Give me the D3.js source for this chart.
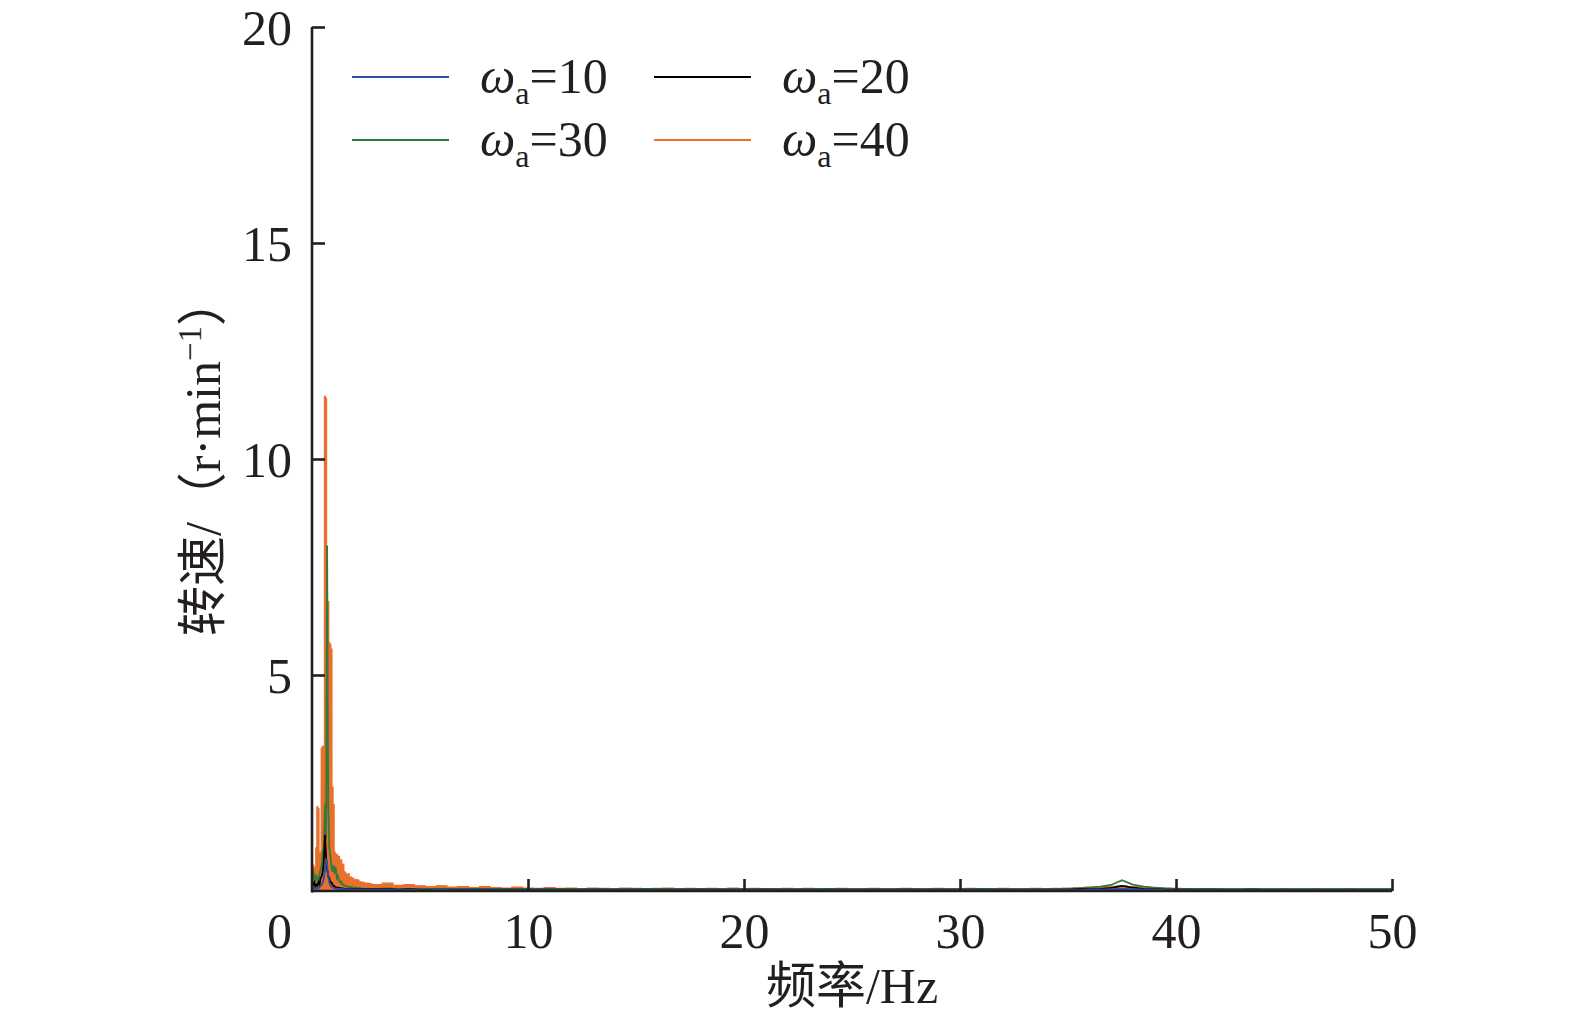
<!DOCTYPE html>
<html><head><meta charset="utf-8">
<script src="https://cdn.jsdelivr.net/npm/d3@7"></script>
<style>
html,body{margin:0;padding:0;background:#fff;}
text{font-family:"Liberation Serif","Times New Roman","Noto Sans CJK SC",serif;fill:#231f20;}
</style></head>
<body><svg id="c" width="1575" height="1025"></svg>
<script>
// ---- data ----
const seriesNames = ["10", "20", "30", "40"];
const seriesColors = ["#2f4f9f", "#000000", "#35793a", "#e8702c"];
const lowStep = 0.05;   // Hz, spectrum samples 0–2.95 Hz
const tailStart = 3.0, tailStep = 0.5; // Hz, samples 3–50 Hz
const xTicks = [0, 10, 20, 30, 40, 50];
const yTicks = [5, 10, 15, 20];

const low10 = [0.02,0.05,0.08,0.06,0.05,0.08,0.06,0.10,0.12,0.15,0.20,0.30,0.50,0.75,0.60,0.35,0.20,0.12,0.10,0.08,
  0.07,0.06,0.06,0.05,0.05,0.05,0.04,0.05,0.04,0.04,0.04,0.04,0.03,0.04,0.03,0.03,0.04,0.03,0.03,0.03,
  0.03,0.03,0.03,0.03,0.03,0.03,0.03,0.03,0.03,0.03,0.03,0.03,0.03,0.03,0.03,0.03,0.03,0.03,0.03,0.03];
const low20 = [0.05,0.15,0.20,0.10,0.15,0.10,0.20,0.15,0.30,0.35,0.45,0.70,1.30,0.80,0.50,0.35,0.30,0.20,0.20,0.15,
  0.12,0.10,0.09,0.08,0.08,0.07,0.07,0.06,0.06,0.06,0.05,0.05,0.05,0.05,0.05,0.04,0.05,0.04,0.04,0.04,
  0.04,0.04,0.04,0.04,0.04,0.04,0.04,0.04,0.04,0.04,0.04,0.04,0.04,0.04,0.04,0.04,0.04,0.04,0.04,0.04];
const low30 = [0.10,0.50,0.30,0.20,0.35,0.30,0.20,0.40,0.50,0.60,0.90,1.00,2.00,1.20,8.00,2.00,1.00,0.80,0.55,0.45,
  0.60,0.40,0.55,0.30,0.35,0.25,0.20,0.22,0.15,0.15,0.12,0.12,0.10,0.11,0.09,0.10,0.08,0.09,0.08,0.07,
  0.08,0.07,0.07,0.06,0.07,0.06,0.06,0.05,0.06,0.05,0.05,0.05,0.06,0.05,0.05,0.04,0.05,0.04,0.05,0.04];
const low40 = [0.30,0.60,0.55,0.40,1.00,1.95,1.90,0.85,0.90,3.30,3.35,3.30,11.45,11.40,6.70,6.70,5.75,5.70,5.60,2.40,
  2.00,0.90,0.75,0.85,0.70,0.80,0.55,0.72,0.50,0.62,0.45,0.42,0.38,0.36,0.40,0.30,0.32,0.28,0.30,0.26,
  0.25,0.27,0.22,0.25,0.20,0.22,0.20,0.18,0.20,0.17,0.18,0.16,0.18,0.15,0.17,0.15,0.16,0.14,0.15,0.14];

const tail10 = [0.03,0.03,0.02,0.03,0.02,0.02,0.03,0.02,0.02,0.02,
  0.02,0.02,0.02,0.02,0.02,0.02,0.02,0.02,0.02,0.02,
  0.02,0.02,0.02,0.02,0.02,0.02,0.02,0.02,0.02,0.02,
  0.02,0.02,0.02,0.02,0.02,0.02,0.02,0.02,0.02,0.02,
  0.02,0.02,0.02,0.02,0.02,0.02,0.02,0.02,0.02,0.02,
  0.02,0.02,0.02,0.02,0.02,0.02,0.02,0.02,0.02,0.02,
  0.02,0.02,0.02,0.02,0.02,0.02,0.03,0.03,0.04,0.05,
  0.04,0.03,0.03,0.02,0.02,0.02,0.02,0.02,0.02,0.02,
  0.02,0.02,0.02,0.02,0.02,0.02,0.02,0.02,0.02,0.02,
  0.02,0.02,0.02,0.02,0.02];
const tail20 = [0.04,0.04,0.03,0.04,0.03,0.03,0.03,0.03,0.03,0.03,
  0.03,0.03,0.03,0.03,0.03,0.03,0.03,0.03,0.03,0.03,
  0.03,0.03,0.03,0.03,0.03,0.03,0.03,0.03,0.03,0.03,
  0.03,0.03,0.03,0.03,0.03,0.03,0.03,0.03,0.03,0.03,
  0.03,0.03,0.03,0.03,0.03,0.03,0.03,0.03,0.03,0.03,
  0.03,0.03,0.03,0.03,0.03,0.03,0.03,0.03,0.03,0.03,
  0.03,0.03,0.03,0.03,0.03,0.04,0.04,0.05,0.07,0.12,
  0.08,0.05,0.04,0.03,0.03,0.03,0.03,0.03,0.03,0.03,
  0.03,0.03,0.03,0.03,0.03,0.03,0.03,0.03,0.03,0.03,
  0.03,0.03,0.03,0.03,0.03];
const tail30 = [0.05,0.06,0.04,0.05,0.04,0.04,0.05,0.04,0.04,0.05,
  0.04,0.04,0.05,0.04,0.04,0.04,0.05,0.04,0.04,0.04,
  0.05,0.04,0.04,0.04,0.04,0.05,0.04,0.04,0.04,0.04,
  0.05,0.04,0.04,0.04,0.04,0.04,0.05,0.04,0.04,0.04,
  0.04,0.04,0.05,0.04,0.04,0.04,0.04,0.04,0.04,0.05,
  0.04,0.04,0.04,0.04,0.04,0.04,0.05,0.04,0.04,0.04,
  0.04,0.04,0.04,0.05,0.05,0.06,0.08,0.10,0.14,0.25,
  0.15,0.10,0.08,0.06,0.05,0.05,0.04,0.05,0.04,0.04,
  0.04,0.05,0.04,0.04,0.04,0.04,0.04,0.04,0.04,0.04,
  0.04,0.04,0.04,0.04,0.04];
const tail40 = [0.15,0.18,0.13,0.15,0.12,0.10,0.12,0.09,0.10,0.08,
  0.10,0.08,0.07,0.09,0.07,0.06,0.08,0.06,0.07,0.05,
  0.07,0.06,0.05,0.07,0.06,0.05,0.06,0.07,0.05,0.06,
  0.05,0.06,0.05,0.07,0.05,0.06,0.05,0.05,0.06,0.05,
  0.06,0.05,0.05,0.06,0.05,0.05,0.06,0.05,0.05,0.06,
  0.05,0.05,0.06,0.05,0.05,0.06,0.05,0.05,0.06,0.05,
  0.05,0.06,0.05,0.06,0.07,0.08,0.09,0.10,0.11,0.12,
  0.10,0.09,0.08,0.07,0.06,0.05,0.05,0.04,0.05,0.04,
  0.04,0.05,0.04,0.04,0.05,0.04,0.04,0.05,0.04,0.04,
  0.05,0.04,0.04,0.04,0.04];

const lows = [low10, low20, low30, low40];
const tails = [tail10, tail20, tail30, tail40];

// ---- chart ----
const svg = d3.select("#c");
const x = d3.scaleLinear().domain([0, 50]).range([312, 1392]);
const y = d3.scaleLinear().domain([0, 20]).range([891, 27]);
const axisColor = "#231f20";
const fs = "50px";

function points(k) {
  const pts = lows[k].map((v, i) => [i * lowStep, v]);
  tails[k].forEach((v, i) => pts.push([tailStart + i * tailStep, v]));
  return pts;
}

const plot = svg.append("g");
const line = d3.line().x(d => x(d[0])).y(d => y(d[1]));
const area = d3.area().curve(d3.curveStep).x(d => x(d[0])).y0(y(0)).y1(d => y(d[1]));
// orange drawn underneath, as dense spectrum
plot.append("path").datum(points(3)).attr("d", area)
  .attr("fill", seriesColors[3]).attr("stroke", seriesColors[3]).attr("stroke-width", 1.2);
[2, 1, 0].forEach(k => {
  plot.append("path").datum(points(k)).attr("d", line)
    .attr("fill", "none").attr("stroke", seriesColors[k]).attr("stroke-width", 1.8)
    .attr("stroke-linejoin", "miter");
});

// axes
const xAxis = svg.append("g").attr("transform", `translate(0,${y(0)})`)
  .call(d3.axisTop(x).tickValues(xTicks).tickSize(12).tickFormat(d3.format("d")));
xAxis.select(".domain").attr("d", `M${x(0)},0H${x(50)}`);
xAxis.selectAll("text").attr("y", 57).attr("dy", 0)
  .style("font-size", fs).attr("fill", axisColor);
xAxis.selectAll(".tick").filter(d => d === 0).select("text").attr("x", -33);
xAxis.selectAll(".tick").filter(d => d === 0).select("line").remove();

const yAxis = svg.append("g").attr("transform", `translate(${x(0)},0)`)
  .call(d3.axisRight(y).tickValues(yTicks).tickSize(13).tickFormat(d3.format("d")));
yAxis.select(".domain").attr("d", `M0,${y(20)}V${y(0) + 1.5}`);
yAxis.selectAll("text").attr("x", -20).attr("dy", "0.35em").attr("text-anchor", "end")
  .style("font-size", fs).attr("fill", axisColor);

svg.selectAll(".domain, .tick line").attr("stroke", axisColor).attr("stroke-width", 2.6);

// axis titles
svg.append("text").attr("x", 852).attr("y", 1003).attr("text-anchor", "middle")
  .style("font-size", fs).text("频率/Hz");
const yt = svg.append("text").attr("transform", "translate(220,456) rotate(-90)")
  .attr("text-anchor", "middle").style("font-size", fs);
yt.append("tspan").text("转速/（r·min");
yt.append("tspan").attr("dy", -19).style("font-size", "33px").text("−1");
yt.append("tspan").attr("dy", 19).text("）");

// legend
const legPos = [[352, 77], [654, 77], [352, 140], [654, 140]];
seriesNames.forEach((n, k) => {
  const [lx, ly] = legPos[k];
  svg.append("line").attr("x1", lx).attr("x2", lx + 97).attr("y1", ly).attr("y2", ly)
    .attr("stroke", seriesColors[k]).attr("stroke-width", 2.2);
  const t = svg.append("text").attr("x", lx + 128).attr("y", ly + 16).style("font-size", fs);
  t.append("tspan").style("font-style", "italic").text("ω");
  t.append("tspan").attr("dy", 11).style("font-size", "32px").text("a");
  t.append("tspan").attr("dy", -11).text("=" + n);
});
</script>
</body></html>
